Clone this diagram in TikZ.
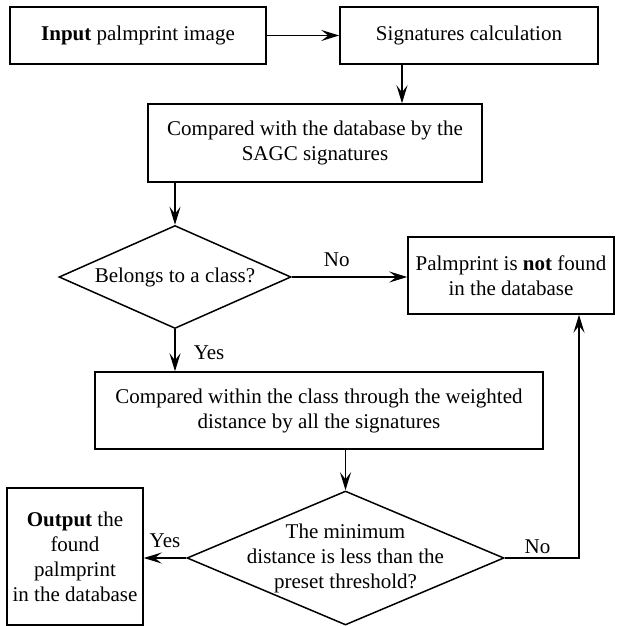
\documentclass[tikz,border=0pt]{standalone}
\usepackage{fontspec}
\setmainfont{Liberation Serif}[BoldFont={Liberation Serif Bold}]
\usetikzlibrary{arrows.meta,shapes.geometric}

\begin{document}
\begin{tikzpicture}[x=1pt,y=-1pt,
    font=\rmfamily\fontsize{21}{25}\selectfont,
    box/.style={draw,line width=1.5pt,align=center,inner sep=0pt},
    decision/.style={draw,diamond,line width=1.5pt,inner sep=0pt},
    flow/.style={line width=1.5pt,-{Stealth[length=18pt,width=11pt,inset=7pt]}},
    lbl/.style={inner sep=0pt,align=center}]
    \newcommand{\sigx}{402}
    \newcommand{\backx}{579}

    \useasboundingbox (0,0) rectangle (620,626);

    % boxes
    \node[box,minimum width=256,minimum height=57] (inp) at (138,35.5) {\textbf{Input} palmprint image};
    \node[box,minimum width=258,minimum height=57] (sig) at (469,35.5) {Signatures calculation};
    \node[box,minimum width=334,minimum height=78] (cmpdb) at (315,143) {Compared with the database by the\\SAGC signatures};
    \node[box,minimum width=206,minimum height=77] (nf) at (511,275.5) {Palmprint is \textbf{not} found\\in the database};
    \node[box,minimum width=448,minimum height=77] (cmpcl) at (319,410.5) {Compared within the class through the weighted\\distance by all the signatures};
    \node[box,minimum width=136,minimum height=137] (out) at (75,556.5) {\textbf{Output} the\\found\\palmprint\\in the database};

    % decisions
    \node[decision,minimum width=232,minimum height=103] (cls) at (175,277) {};
    \node[lbl] (clstext) at (cls) {Belongs to a class?};
    \node[decision,minimum width=317,minimum height=134] (thr) at (345.5,558) {};
    \node[lbl] (thrtext) at (thr) {The minimum\\distance is less than the\\preset threshold?};

    \coordinate (sigcol) at (\sigx,0);
    \coordinate (backcol) at (\backx,0);

    % arrows
    \draw[flow] (inp.east) -- (sig.west);
    \draw[flow] (sig.south -| sigcol) -- (cmpdb.north -| sigcol);
    \draw[flow] (cmpdb.south -| cls.north) -- (cls.north);
    \draw[flow] (cls.east) -- (cls.east -| nf.west) node[lbl,pos=0.39,above=10pt] (no1) {No};
    \draw[flow] (cls.south) -- (cls.south |- cmpcl.north) node[lbl,pos=0.55,right=18pt] (yes1) {Yes};
    \draw[flow] (cmpcl.south -| thr.north) -- (thr.north);
    \draw[flow] (thr.west) -- (thr.west -| out.east) node[lbl,midway,above=10pt] (yes2) {Yes};
    \draw[flow] (thr.east) -| (nf.south -| backcol) node[lbl,pos=0.22,above=4pt] (no2) {No};

\end{tikzpicture}
\end{document}
